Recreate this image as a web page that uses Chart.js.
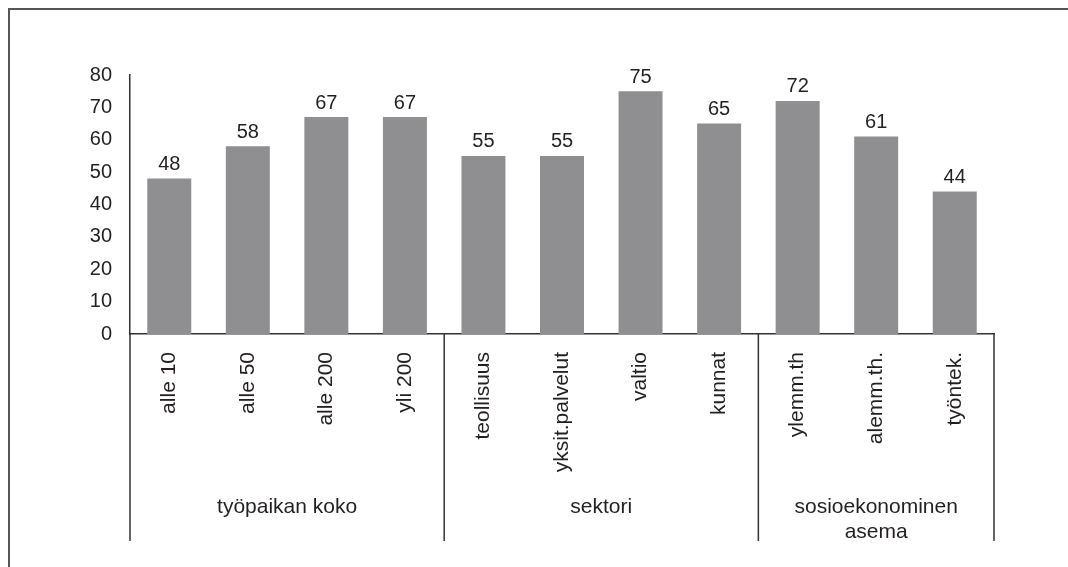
<!DOCTYPE html>
<html>
<head>
<meta charset="utf-8">
<script src="https://cdn.jsdelivr.net/npm/chart.js@4/dist/chart.umd.min.js"></script>
<style>
  html, body { margin: 0; padding: 0; background: #fff; }
  #wrap { width: 1068px; height: 567px; position: relative; }
</style>
</head>
<body>
<div id="wrap"><canvas id="chart"></canvas></div>
<script>
// ---- data ----
const categories = ["alle 10", "alle 50", "alle 200", "yli 200",
  "teollisuus", "yksit.palvelut", "valtio", "kunnat",
  "ylemm.th", "alemm.th.", "työntek."];
const values = [48, 58, 67, 67, 55, 55, 75, 65, 72, 61, 44];
const groups = [["työpaikan koko"], ["sektori"], ["sosioekonominen", "asema"]];
const groupSizes = [4, 4, 3];
const yTicks = [0, 10, 20, 30, 40, 50, 60, 70, 80];

const FONT = "'Liberation Sans', Arial, sans-serif";
const INK = '#231f20';
const LINE = '#333';

// etiketit, ryhmät ja kehys
const extras = {
  id: 'extras',
  beforeDraw(chart) {
    const c = chart.ctx;
    c.save();
    c.strokeStyle = '#555';
    c.lineWidth = 2;
    c.beginPath();
    c.moveTo(9, 567);
    c.lineTo(9, 9);
    c.lineTo(1068, 9);
    c.stroke();
    c.restore();
  },
  afterDatasetsDraw(chart) {
    const c = chart.ctx;
    const x = chart.scales.x;
    const bottom = chart.chartArea.bottom;
    c.save();
    // arvot pylväiden päälle
    c.font = '20px ' + FONT;
    c.fillStyle = INK;
    c.textAlign = 'center';
    c.textBaseline = 'bottom';
    chart.getDatasetMeta(0).data.forEach((bar, i) => {
      c.fillText(values[i], bar.x, bar.y - 4);
    });
    // ryhmien erotinviivat
    c.strokeStyle = LINE;
    c.lineWidth = 1.5;
    let start = 0;
    const bounds = [-0.5];
    groupSizes.forEach(n => { start += n; bounds.push(start - 0.5); });
    bounds.forEach(b => {
      const px = x.getPixelForValue(b);
      c.beginPath();
      c.moveTo(px, bottom);
      c.lineTo(px, 541);
      c.stroke();
    });
    // ryhmien nimet
    c.font = '21px ' + FONT;
    c.textBaseline = 'middle';
    start = 0;
    groups.forEach((lines, g) => {
      const mid = start + (groupSizes[g] - 1) / 2;
      const px = x.getPixelForValue(mid);
      lines.forEach((t, k) => c.fillText(t, px, 507 + k * 25));
      start += groupSizes[g];
    });
    c.restore();
  }
};

new Chart(document.getElementById('chart'), {
  type: 'bar',
  data: {
    labels: categories,
    datasets: [{
      data: values,
      backgroundColor: '#8f8f92',
      categoryPercentage: 1,
      barPercentage: 0.56
    }]
  },
  options: {
    responsive: true,
    maintainAspectRatio: false,
    animation: false,
    events: [],
    layout: { padding: { left: 0, top: 75, right: 74, bottom: 0 } },
    plugins: { legend: { display: false }, tooltip: { enabled: false } },
    scales: {
      x: {
        grid: { display: false, drawTicks: false },
        border: { display: true, color: LINE, width: 1.5 },
        ticks: {
          autoSkip: false, minRotation: 90, maxRotation: 90,
          padding: 18, color: INK, font: { family: FONT, size: 21 }
        },
        afterFit: s => { s.height = 567 - 334; }
      },
      y: {
        min: 0, max: 80,
        afterBuildTicks: s => { s.ticks = yTicks.map(v => ({ value: v })); },
        grid: { display: false, drawTicks: false },
        border: { display: true, color: LINE, width: 1.5 },
        ticks: { padding: 18, color: INK, font: { family: FONT, size: 20 } },
        afterFit: s => { s.width = 130; }
      }
    }
  },
  plugins: [extras]
});
</script>
</body>
</html>
